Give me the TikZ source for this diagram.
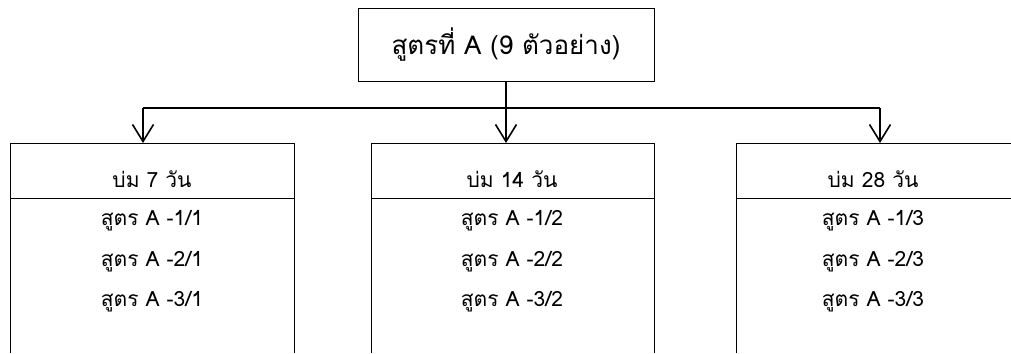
\documentclass[tikz,border=0pt]{standalone}
\usepackage{fontspec}
\newfontfamily\thaifont[Script=Thai]{Loma}
\usetikzlibrary{arrows.meta}
\tikzset{
  boxline/.style={line width=1bp, draw=black},
  conn/.style={line width=1.6bp, draw=black},
  arr/.style={conn, -{Straight Barb[length=17bp,width=21bp,line width=1.6bp]}},
  toptext/.style={font=\thaifont\fontsize{26bp}{30bp}\selectfont, inner sep=0pt},
  celltext/.style={font=\thaifont\fontsize{21bp}{25bp}\selectfont, inner sep=0pt},
}
\begin{document}
\begin{tikzpicture}[x=1bp,y=-1bp]
\useasboundingbox (0,0) rectangle (1011,353);
% top box
\node[boxline, draw, minimum width=296bp, minimum height=73bp, inner sep=0pt] (top) at (506,44.5) {};
\node[toptext] (toplabel) at (506,45) {สูตรที่ A (9 ตัวอย่าง)};
% lower boxes (open at bottom)
\draw[boxline] (10,353) -- (10,143) -- (294,143) -- (294,353);
\draw[boxline] (10,198) -- (294,198);
\draw[boxline] (371,353) -- (371,143) -- (654,143) -- (654,353);
\draw[boxline] (371,198) -- (654,198);
\draw[boxline] (736,353) -- (736,143) -- (1011,143);
\draw[boxline] (736,198) -- (1011,198);
% headers
\node[celltext] (h1) at (152,179) {บ่ม 7 วัน};
\node[celltext] (h2) at (512,179) {บ่ม 14 วัน};
\node[celltext] (h3) at (873,179) {บ่ม 28 วัน};
% rows
\node[celltext] (a1) at (152,221) {สูตร A -1/1};
\node[celltext] (a2) at (152,262) {สูตร A -2/1};
\node[celltext] (a3) at (152,302) {สูตร A -3/1};
\node[celltext] (b1) at (512,221) {สูตร A -1/2};
\node[celltext] (b2) at (512,262) {สูตร A -2/2};
\node[celltext] (b3) at (512,302) {สูตร A -3/2};
\node[celltext] (c1) at (873,221) {สูตร A -1/3};
\node[celltext] (c2) at (873,262) {สูตร A -2/3};
\node[celltext] (c3) at (873,302) {สูตร A -3/3};
% connectors
\coordinate (jl) at (143,108);
\coordinate (jm) at (506,108);
\coordinate (jr) at (880,108);
\coordinate (tl) at (143,143);
\coordinate (tm) at (506,143);
\coordinate (tr) at (880,143);
\draw[conn] (jl) -- (jr);
\draw[conn] (top.south) -- (jm);
\draw[arr] (jl) -- (tl);
\draw[arr] (jm) -- (tm);
\draw[arr] (jr) -- (tr);
\end{tikzpicture}
\end{document}
